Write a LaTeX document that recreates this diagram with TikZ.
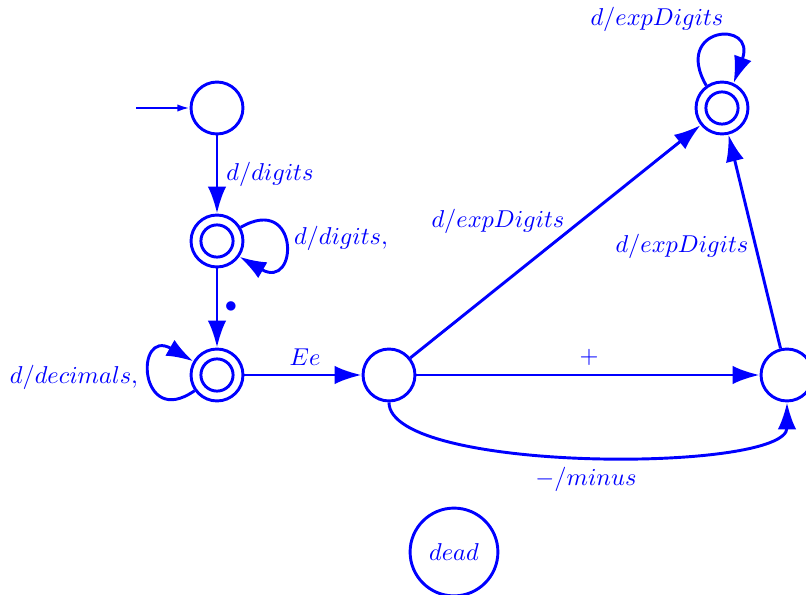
\documentclass[tikz,border=0pt]{standalone}
\usetikzlibrary{arrows.meta}
\begin{document}
\begin{tikzpicture}[x=0.41pt,y=-0.41pt,
  every path/.style={color=blue},
  state/.style={circle,draw=blue,line width=1.2pt,minimum size=21.3pt,inner sep=0pt},
  accepting/.style={path picture={\draw[blue,line width=1.2pt] (path picture bounding box.center) circle (6.6pt);}},
  edge/.style={draw=blue,line width=1.2pt,-{Latex[length=11pt,width=7.5pt]}},
  lbl/.style={text=blue,inner sep=0pt,font=\fontsize{10}{12}\selectfont}]
\useasboundingbox (0,0) rectangle (806,595);
\node[state] (s0) at (217,108) {};
\node[state,accepting] (s1) at (217,241) {};
\node[state,accepting] (s2) at (217,375) {};
\node[state] (s3) at (389,375) {};
\node[state] (s4) at (787,375) {};
\node[state,accepting] (s5) at (722,108) {};
\node[state,minimum size=36pt] (dead) at (454,552) {\color{blue}$dead$};
\coordinate (start) at (136,108);
\draw[blue,line width=0.8pt,-{Latex[length=5pt,width=3pt]}] (start) -- (s0);
\draw[edge] (s0) -- (s1);
\draw[edge] (s1) -- (s2);
\draw[edge] (s2) -- (s3);
\draw[edge] (s3) -- (s4);
\draw[edge] (s3) -- (s5);
\draw[edge] (s4) -- (s5);
\draw[edge] (s3.south) to[out=-90,in=-90,distance=29pt] (s4.south);
\draw[edge] (s1.30) to[out=30,in=-30,distance=28pt] (s1.-35);
\draw[edge] (s2.-145) to[out=-145,in=150,distance=28pt] (s2.150);
\draw[edge] (s5.125) to[out=120,in=70,distance=28pt] (s5.65);
\node[lbl] (l1) at (270,174) {$d/digits$};
\node[lbl] (l2) at (341,238) {$d/digits,$};
\node[lbl] (l3) at (231,307) {$\bullet$};
\node[lbl] (l4) at (74,377) {$d/decimals,$};
\node[lbl] (l5) at (305,357) {$Ee$};
\node[lbl] (l6) at (589,357) {$+$};
\node[lbl] (l7) at (586,479) {$-/minus$};
\node[lbl] (l8) at (498,221) {$d/expDigits$};
\node[lbl] (l9) at (682,246) {$d/expDigits$};
\node[lbl] (l10) at (657,19) {$d/expDigits$};
\end{tikzpicture}
\end{document}
